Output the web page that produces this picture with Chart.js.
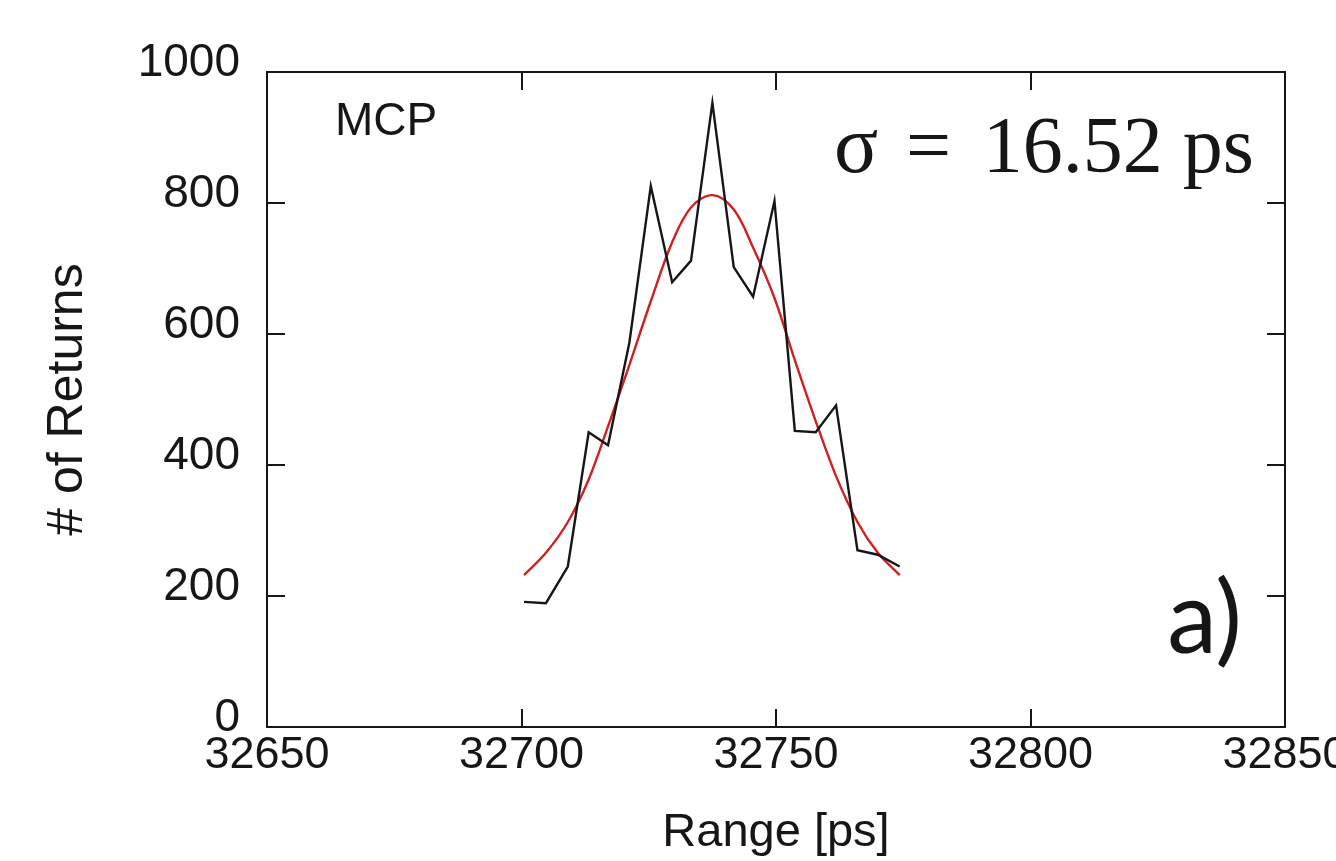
<!DOCTYPE html>
<html>
<head>
<meta charset="utf-8">
<title>MCP range histogram</title>
<script src="https://cdn.jsdelivr.net/npm/chart.js@4/dist/chart.umd.min.js"></script>
<style>
  html, body { margin: 0; padding: 0; background: #fff; }
  canvas { display: block; }
</style>
</head>
<body>
<canvas id="rangeChart" width="1336" height="861"></canvas>
<script>
  "use strict";

  // range bins [ps]
  const rangeBins = [
    32700.5, 32704.8, 32709.1, 32713.2, 32717.0, 32721.2, 32725.4, 32729.6,
    32733.3, 32737.5, 32741.7, 32745.5, 32749.7, 32753.7, 32757.8, 32761.8,
    32766.0, 32770.0, 32774.3,
  ];
  // measured returns per bin (black)
  const returnCounts = [
    191, 189, 245, 450, 430, 587, 826, 679, 712, 953, 702, 657, 803, 452, 450,
    491, 270, 263, 245,
  ];
  // gaussian fit (red), sampled at the same bins
  const fitCounts = [
    232, 266, 313, 378, 459, 553, 650, 740, 793, 812, 790, 732, 655, 560, 467,
    383, 313, 266, 232,
  ];
  const xTicks = [32650, 32700, 32750, 32800, 32850];
  const yTicks = [0, 200, 400, 600, 800, 1000];

  const panelLabel = "MCP";
  const sigmaValue = "16.52 ps";
  const panelTag = "a)";

  const INK = "#161616";
  const SANS = "'Liberation Sans', Arial, Helvetica, sans-serif";
  const SERIF = "'Liberation Serif', 'Times New Roman', serif";

  const toPoints = (xs, ys) => xs.map((x, i) => ({ x: x, y: ys[i] }));

  // box frame, inward ticks on all four sides, and the text annotations
  const frameAndNotes = {
    id: "frameAndNotes",
    afterDraw(chart) {
      const ctx = chart.ctx;
      const area = chart.chartArea;
      const xs = chart.scales.x;
      const ys = chart.scales.y;
      const tick = 18;

      ctx.save();
      ctx.strokeStyle = INK;
      ctx.lineWidth = 2;
      ctx.strokeRect(area.left, area.top, area.right - area.left, area.bottom - area.top);

      ctx.beginPath();
      xTicks.forEach((v) => {
        const px = Math.round(xs.getPixelForValue(v));
        ctx.moveTo(px, area.bottom);
        ctx.lineTo(px, area.bottom - tick);
        ctx.moveTo(px, area.top);
        ctx.lineTo(px, area.top + tick);
      });
      yTicks.forEach((v) => {
        const py = Math.round(ys.getPixelForValue(v));
        ctx.moveTo(area.left, py);
        ctx.lineTo(area.left + tick, py);
        ctx.moveTo(area.right, py);
        ctx.lineTo(area.right - tick, py);
      });
      ctx.stroke();

      ctx.fillStyle = INK;
      ctx.textBaseline = "alphabetic";

      ctx.font = "46px " + SANS;
      ctx.textAlign = "left";
      ctx.fillText(panelLabel, 335, 135);

      // sigma = value, laid out like the typeset label
      ctx.font = "82px " + SERIF;
      ctx.textAlign = "left";
      ctx.fillText("\u03c3", 834, 172);
      ctx.font = "80px " + SERIF;
      ctx.fillText("=", 906, 172);
      ctx.textAlign = "right";
      ctx.fillText(sigmaValue, 1254, 172);

      ctx.font = "100px Lato, 'Open Sans', sans-serif";
      ctx.textAlign = "right";
      ctx.fillText(panelTag, 1242, 653);
      ctx.restore();
    },
  };

  new Chart(document.getElementById("rangeChart"), {
    type: "line",
    data: {
      datasets: [
        {
          label: "Returns",
          data: toPoints(rangeBins, returnCounts),
          borderColor: INK,
          borderWidth: 2.4,
          pointRadius: 0,
          tension: 0,
          fill: false,
        },
        {
          label: "Gaussian fit",
          data: toPoints(rangeBins, fitCounts),
          borderColor: "#d02020",
          borderWidth: 2.4,
          pointRadius: 0,
          tension: 0.35,
          fill: false,
        },
      ],
    },
    options: {
      responsive: false,
      animation: false,
      events: [],
      layout: { padding: { top: 72, right: 51, left: 0, bottom: 0 } },
      plugins: {
        legend: { display: false },
        tooltip: { enabled: false },
      },
      scales: {
        x: {
          type: "linear",
          min: 32650,
          max: 32850,
          grid: { display: false, drawTicks: false },
          border: { display: false },
          afterBuildTicks(scale) {
            scale.ticks = xTicks.map((v) => ({ value: v }));
          },
          ticks: {
            color: INK,
            font: { family: SANS, size: 45 },
            padding: 2,
            maxRotation: 0,
            autoSkip: false,
            callback: (v) => String(v),
          },
          title: {
            display: true,
            text: "Range [ps]",
            color: INK,
            font: { family: SANS, size: 47, lineHeight: 1.2 },
            padding: { top: 0, bottom: 0 },
          },
          afterFit(scale) {
            scale.height = 134;
            scale.paddingLeft = 0;
            scale.paddingRight = 0;
          },
        },
        y: {
          type: "linear",
          min: 0,
          max: 1000,
          grid: { display: false, drawTicks: false },
          border: { display: false },
          afterBuildTicks(scale) {
            scale.ticks = yTicks.map((v) => ({ value: v }));
          },
          ticks: {
            color: INK,
            font: { family: SANS, size: 46 },
            padding: 27,
            labelOffset: -9,
            callback: (v) => String(v),
          },
          title: {
            display: true,
            text: "# of Returns",
            color: INK,
            font: { family: SANS, size: 50, lineHeight: 1.2 },
            padding: { top: 38, bottom: 0 },
          },
          afterFit(scale) {
            scale.width = 267;
            scale.paddingTop = 0;
            scale.paddingBottom = 0;
          },
        },
      },
    },
    plugins: [frameAndNotes],
  });
</script>
</body>
</html>
